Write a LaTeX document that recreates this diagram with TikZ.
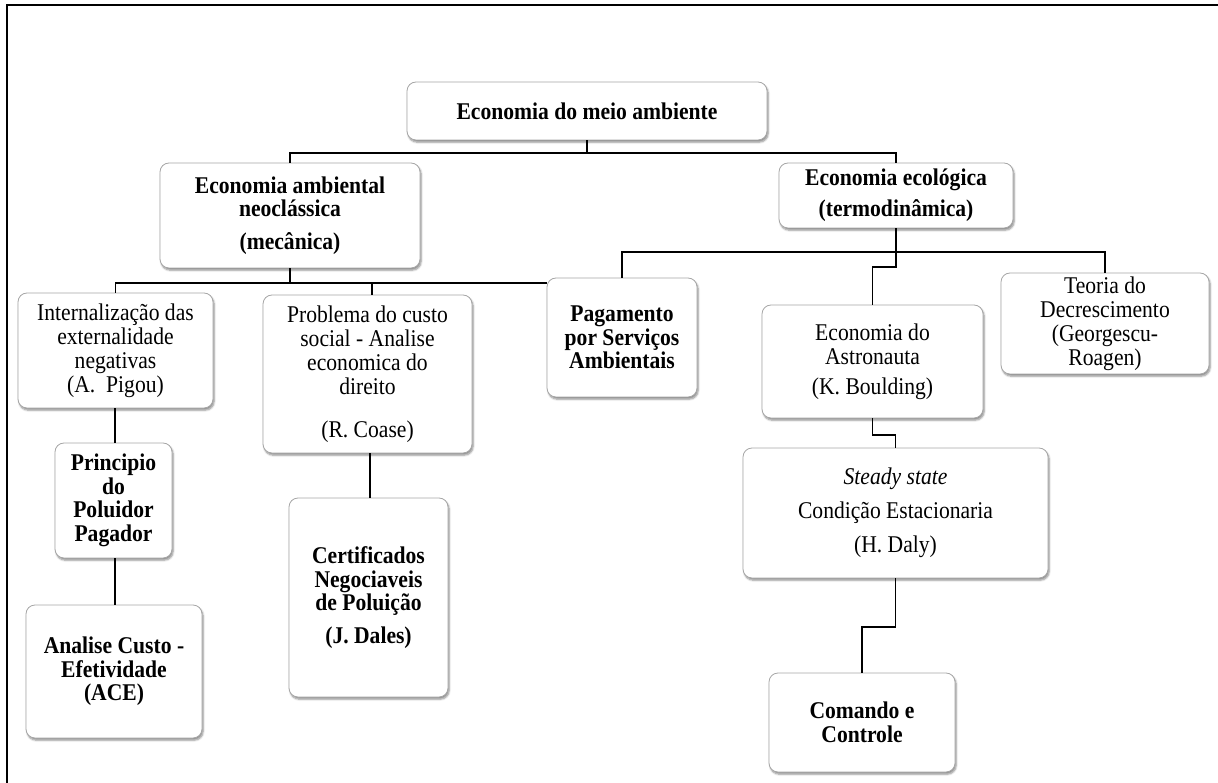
\documentclass[tikz,border=0pt]{standalone}
\usepackage{fontspec}
\setmainfont{Liberation Serif}[FakeStretch=0.9]
\usetikzlibrary{shadows.blur}
\begin{document}
\begin{tikzpicture}[x=1pt,y=-1pt,
  box/.style={draw=black!35, line width=0.8pt, fill=white, rounded corners=9pt,
    align=center, inner sep=0pt,
    font=\fontsize{24}{24}\selectfont,
    blur shadow={shadow xshift=1.2pt, shadow yshift=-2.2pt, shadow blur steps=6, shadow opacity=45}},
  bbox/.style={box, font=\fontsize{24}{23.5}\selectfont\bfseries},
  link/.style={line width=1.2pt, black},
  frame/.style={line width=2pt, black}]
\useasboundingbox (0,0) rectangle (1218,783);
\draw[frame] (7,783) -- (7,5) -- (1218,5);

% first level
\node[bbox, minimum width=360, minimum height=58] (top) at (587,111) {Economia do meio ambiente};
\node[bbox, minimum width=260, minimum height=105] (neo) at (290,215.5)
  {Economia ambiental\\neoclássica\\[9pt](mecânica)};
\node[bbox, minimum width=234, minimum height=65] (eco) at (896,195.5)
  {Economia ecológica\\[7.5pt](termodinâmica)};

% neoclassical branch
\node[box, minimum width=195, minimum height=115] (intern) at (115.5,350.5)
  {Internalização das\\externalidade\\negativas\\(A.\ \ Pigou)};
\node[box, minimum width=209, minimum height=158] (prob) at (367.5,374)
  {Problema do custo\\social - Analise\\economica do\\direito\\[19pt](R. Coase)};
\node[bbox, minimum width=150, minimum height=119] (pag) at (622,337.5)
  {Pagamento\\por Serviços\\Ambientais};
\node[bbox, minimum width=117, minimum height=115] (princ) at (113.5,500.5)
  {Principio\\do\\Poluidor\\Pagador};
\node[bbox, minimum width=176, minimum height=133] (ace) at (114,671.5)
  {Analise Custo -\\Efetividade\\(ACE)};
\node[bbox, minimum width=159, minimum height=199] (cert) at (368.5,597.5)
  {Certificados\\Negociaveis\\de Poluição\\[9pt](J. Dales)};

% ecological branch
\node[box, minimum width=221, minimum height=113] (astro) at (872.5,361.5)
  {Economia do\\Astronauta\\[6pt](K. Boulding)};
\node[box, minimum width=208, minimum height=101] (teoria) at (1105,323.5)
  {Teoria do\\Decrescimento\\(Georgescu-\\Roagen)};
\node[box, minimum width=305, minimum height=130] (steady) at (895.5,513)
  {\textit{Steady state}\\[10pt]Condição Estacionaria\\[10pt](H. Daly)};
\node[bbox, minimum width=186, minimum height=99] (cmd) at (862,722.5)
  {Comando e\\Controle};

% connectors
\coordinate (j0) at (587,153);
\draw[link] (top.south) -- (j0);
\draw[link] (j0) -| (neo.north);
\draw[link] (j0) -| (eco.north);

\coordinate (j1) at (290,283);
\draw[link] (neo.south) -- (j1);
\draw[link] (j1) -| (intern.north);
\draw[link] (j1) -| (372,295);
\draw[link] (j1) -- (pag.west |- j1);

\coordinate (j2) at (896,252);
\draw[link] (eco.south) -- (j2);
\draw[link] (j2) -| (pag.north);
\draw[link] (j2) -| (teoria.north);
\draw[link] (j2) -- (896,267) -| (astro.north);

\draw[link] (intern.south -| 115,0) -- (princ.north -| 115,0);
\draw[link] (princ.south -| 115,0) -- (ace.north -| 115,0);
\draw[link] (prob.south -| 370,0) -- (cert.north -| 370,0);
\draw[link] (astro.south) -- (872.5,435) -| (steady.north);
\draw[link] (steady.south) -- (895.5,627) -| (cmd.north);
\end{tikzpicture}
\end{document}
